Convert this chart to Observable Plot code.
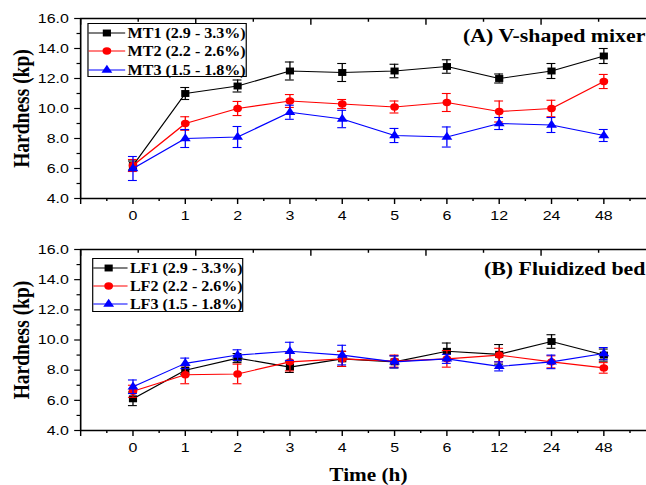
<!DOCTYPE html>
<html><head><meta charset="utf-8">
<script src="https://cdn.jsdelivr.net/npm/d3@7"></script>
<script src="https://cdn.jsdelivr.net/npm/@observablehq/plot@0.6"></script>
<style>
html,body{margin:0;padding:0;background:#fff;overflow:hidden;}
#wrap{position:relative;width:547px;height:485px;transform:scaleX(1.181);transform-origin:0 0;}
#top,#bot{position:absolute;left:0;}
#top{top:0;} #bot{top:230px;}
.legend{position:absolute;border:1.3px solid #000;background:#fff;box-sizing:border-box;}
.legend svg{display:block;overflow:visible;}
</style>
</head><body>
<div id="wrap">
  <div id="top"></div>
  <div id="bot"></div>
  <div class="legend" id="legA" style="left:73.7px;top:23px;width:135.6px;height:54px;"></div>
  <div class="legend" id="legB" style="left:78px;top:258px;width:128px;height:54px;"></div>
</div>
<script>
const hours = ["0","1","2","3","4","5","6","12","24","48"];
const yTicks = [4,6,8,10,12,14,16];
const yMinor = [5,7,9,11,13,15];

const mtNames = ["MT1 (2.9 - 3.3%)","MT2 (2.2 - 2.6%)","MT3 (1.5 - 1.8%)"];
const mt1 = [6.2,11.0,11.5,12.5,12.4,12.5,12.8,12.0,12.5,13.5];
const mt1Err = [0.3,0.4,0.4,0.6,0.6,0.45,0.45,0.3,0.5,0.5];
const mt2 = [6.2,9.0,10.0,10.5,10.3,10.1,10.4,9.8,10.0,11.8];
const mt2Err = [0.4,0.45,0.47,0.43,0.3,0.4,0.6,0.7,0.55,0.47];
const mt3 = [6.0,8.0,8.1,9.75,9.3,8.2,8.1,9.0,8.9,8.2];
const mt3Err = [0.8,0.6,0.7,0.47,0.58,0.47,0.67,0.4,0.5,0.4];

const lfNames = ["LF1 (2.9 - 3.3%)","LF2 (2.2 - 2.6%)","LF3 (1.5 - 1.8%)"];
const lf1 = [6.1,8.0,8.8,8.2,8.75,8.55,9.25,9.05,9.9,9.0];
const lf1Err = [0.45,0.3,0.3,0.35,0.5,0.4,0.55,0.65,0.45,0.4];
const lf2 = [6.6,7.7,7.75,8.55,8.75,8.6,8.75,9.0,8.55,8.15];
const lf2Err = [0.4,0.6,0.65,0.6,0.5,0.4,0.55,0.45,0.4,0.35];
const lf3 = [6.9,8.45,9.0,9.25,9.0,8.55,8.75,8.25,8.55,9.1];
const lf3Err = [0.45,0.35,0.35,0.6,0.65,0.4,0.3,0.3,0.45,0.4];

const colors = ["#000000","#ff0000","#0000ff"];
const symbols = ["square","circle","triangle"];
const symR = [3.9,3.7,3.4];

const xDomain = [-1, 10];
const xRange = [67.8, 555.1];
const majorX = d3.range(-1, 11);
const minorX = d3.range(-0.5, 10, 1);
const topMajor = d3.range(0, 11, 2).map(k => -1 + k * 1.1);
const topMinor = d3.range(1, 11, 2).map(k => -1 + k * 1.1);

function series(vals, errs, k) {
  return vals.map((v, i) => ({i, v, e: errs[i], s: k}));
}

const tickFont = "Liberation Sans, Arial, sans-serif";
const serif = "Liberation Serif, Times New Roman, serif";

function panel(seriesList, title, titleDy, height, mTop, mBottom, showXLabel) {
  const marks = [];
  seriesList.forEach((data, k) => {
    marks.push(Plot.line(data, {x: "i", y: "v", stroke: colors[k], strokeWidth: 1.1}));
    marks.push(Plot.ruleX(data, {x: "i", y1: d => d.v - d.e, y2: d => d.v + d.e, stroke: colors[k], strokeWidth: 1.1}));
    marks.push(Plot.ruleY(data, {y: d => d.v - d.e, x1: d => d.i - 0.085, x2: d => d.i + 0.085, stroke: colors[k], strokeWidth: 1.1}));
    marks.push(Plot.ruleY(data, {y: d => d.v + d.e, x1: d => d.i - 0.085, x2: d => d.i + 0.085, stroke: colors[k], strokeWidth: 1.1}));
    marks.push(Plot.dot(data, {x: "i", y: "v", fill: colors[k], symbol: () => symbols[k], r: symR[k], stroke: "none"}));
  });
  marks.push(
    Plot.ruleX([xDomain[0]], {stroke: "#000", strokeWidth: 1.4}),
    Plot.ruleY([4], {stroke: "#000", strokeWidth: 1.4}),
    Plot.ruleY([16], {stroke: "#000", strokeWidth: 1.4}),
    Plot.axisY({ticks: yTicks, label: null, tickFormat: d => d.toFixed(1), tickSize: 5, tickPadding: 5, fontSize: 13.5, fontFamily: tickFont, strokeWidth: 1.2}),
    Plot.axisY({ticks: yMinor, label: null, tickSize: 3, text: null, strokeWidth: 1.2}),
    Plot.axisX({ticks: majorX, label: null, tickFormat: i => (i >= 0 && i < hours.length) ? hours[i] : "", tickSize: 6, tickPadding: 6, fontSize: 13.5, fontFamily: tickFont, strokeWidth: 1.2}),
    Plot.axisX({ticks: minorX, label: null, tickSize: 3, text: null, strokeWidth: 1.2}),
    Plot.ruleX(topMajor, {x: d => d, y1: 16, y2: 15.55, stroke: "#000", strokeWidth: 1.2}),
    Plot.ruleX(topMinor, {x: d => d, y1: 16, y2: 15.75, stroke: "#000", strokeWidth: 1.2}),
    Plot.text([title], {frameAnchor: "top-right", textAnchor: "end", lineAnchor: "middle", dx: -1, dy: titleDy, text: d => d, fontSize: 18.5, fontWeight: "bold", fontFamily: serif, fill: "#000"}),
    Plot.text(["Hardness (kp)"], {frameAnchor: "left", rotate: -90, dx: -50, text: d => d, fontSize: 19.5, fontWeight: "bold", fontFamily: serif, fill: "#000", textAnchor: "middle", lineAnchor: "middle"})
  );
  if (showXLabel) {
    marks.push(Plot.text(["Time (h)"], {x: () => (xDomain[0] + xDomain[1]) / 2, frameAnchor: "bottom", lineAnchor: "middle", dy: 45, text: d => d, fontSize: 18, fontWeight: "bold", fontFamily: serif, fill: "#000"}));
  }
  return Plot.plot({
    width: 547, height,
    marginLeft: 67.8, marginRight: 0, marginTop: mTop, marginBottom: mBottom,
    style: {background: "transparent", color: "#000", overflow: "hidden"},
    x: {domain: xDomain, range: xRange, label: null},
    y: {domain: [4, 16], label: null},
    marks
  });
}

const A = [series(mt1, mt1Err, 0), series(mt2, mt2Err, 1), series(mt3, mt3Err, 2)];
const B = [series(lf1, lf1Err, 0), series(lf2, lf2Err, 1), series(lf3, lf3Err, 2)];

document.getElementById("top").appendChild(panel(A, "(A) V-shaped mixer", 18, 230, 18, 32, false));
document.getElementById("bot").appendChild(panel(B, "(B) Fluidized bed", 20, 255, 19, 55, true));

function legend(id, names, w, h, lineX1, lineX2, markX, textX, rowY) {
  const el = document.getElementById(id);
  const svg = d3.select(el).append("svg").attr("width", w).attr("height", h);
  names.forEach((name, k) => {
    const y = rowY[k];
    svg.append("line").attr("x1", lineX1).attr("x2", lineX2).attr("y1", y).attr("y2", y).attr("stroke", colors[k]).attr("stroke-width", 1.1);
    const sym = d3.symbol().type([d3.symbolSquare, d3.symbolCircle, d3.symbolTriangle][k]).size(Math.PI * symR[k] * symR[k]);
    svg.append("path").attr("d", sym()).attr("transform", `translate(${markX},${y})`).attr("fill", colors[k]);
    svg.append("text").attr("x", textX).attr("y", y).attr("dy", "0.34em").attr("font-family", serif).attr("font-weight", "bold").attr("font-size", 13.6).attr("fill", "#000").text(name);
  });
}
legend("legA", mtNames, 133, 52, 0, 31, 15.5, 33, [9, 27, 46]);
legend("legB", lfNames, 126, 52, 0, 29, 13, 31, [9, 27, 45]);
</script>
</body></html>
